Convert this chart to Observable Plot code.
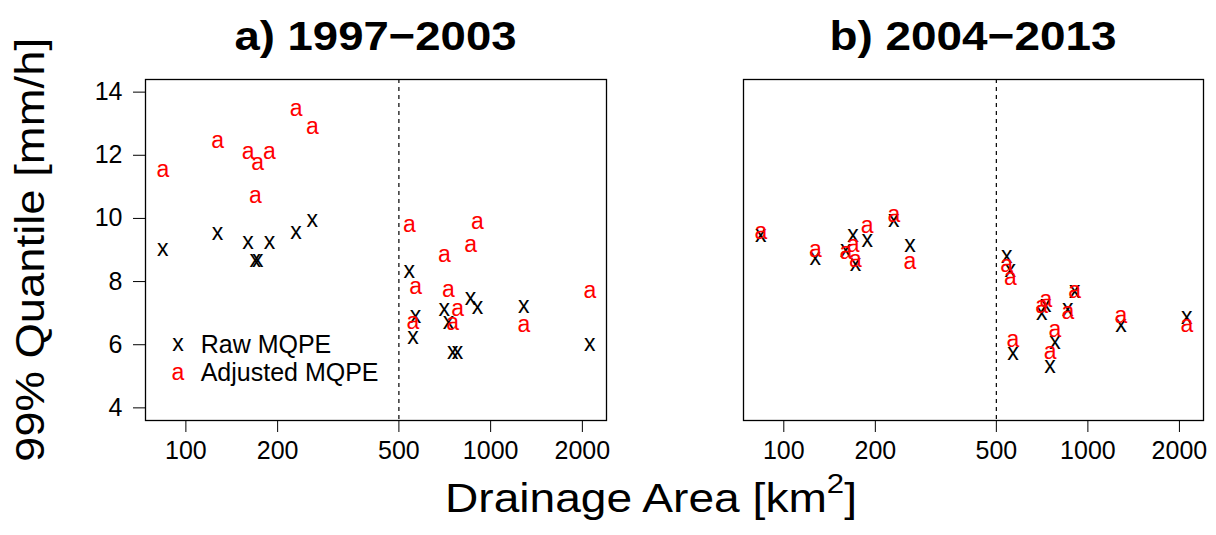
<!DOCTYPE html>
<html>
<head>
<meta charset="utf-8">
<script src="https://cdn.jsdelivr.net/npm/d3@7"></script>
<script src="https://cdn.jsdelivr.net/npm/@observablehq/plot@0.6"></script>
<style>
  body { margin: 0; background: #ffffff; }
  #wrap { position: relative; width: 1216px; height: 535px; background: #ffffff;
          font-family: "Liberation Sans", Arial, Helvetica, sans-serif; }
  #wrap > svg { position: absolute; top: 0; }
</style>
</head>
<body>
<div id="wrap"></div>
<script>
// ---------------- data ----------------
const areas = [84, 127, 160, 169, 172, 188, 230, 260, 541, 556, 567, 705, 727, 751, 779, 859, 905, 1285, 2115];

const rawA = [9.02, 9.51, 9.24, 8.67, 8.67, 9.24, 9.56, 9.94, 8.33, 6.24, 6.90, 7.11, 6.71, 5.74, 5.74, 7.46, 7.19, 7.22, 6.01];
const adjA = [11.52, 12.44, 12.08, 10.68, 11.73, 12.08, 13.44, 12.89, 9.77, 6.71, 7.81, 8.82, 7.72, 6.67, 7.11, 9.14, 9.87, 6.60, 7.67];

const rawB = [9.47, 8.73, 8.97, 9.44, 8.55, 9.31, 9.94, 9.15, 8.78, 8.36, 5.72, 6.97, 7.23, 5.30, 6.06, 7.11, 7.67, 6.59, 6.86];
const adjB = [9.54, 8.99, 8.92, 9.15, 8.67, 9.73, 10.10, 8.59, 8.52, 8.09, 6.12, 7.20, 7.39, 5.75, 6.46, 7.01, 7.67, 6.88, 6.62];

const panelTitles = ["a) 1997\u22122003", "b) 2004\u22122013"];
const xTicks = [100, 200, 500, 1000, 2000];
const yTicks = [4, 6, 8, 10, 12, 14];
const threshold = [500];
const xDomain = [73.7, 2400];
const yDomain = [3.6, 14.4];
const legendSymbols = ["x", "a"];
const legendLabels = ["Raw MQPE", "Adjusted MQPE"];
const yLabel = "99% Quantile [mm/h]";
const xLabelMain = "Drainage Area [km";
const xLabelSup = "2";
const xLabelEnd = "]";

// ---------------- layout ----------------
const FONT = "'Liberation Sans', Arial, Helvetica, sans-serif";
const RED = "#ff0000";
const PT = 23;
const H = 535, MT = 79, MB = 115;
const panels = [
  {left: 0,   width: 620, ml: 145, mr: 14, raw: rawA, adj: adjA, yaxis: true},
  {left: 620, width: 596, ml: 123, mr: 13, raw: rawB, adj: adjB, yaxis: false}
];

const wrap = document.getElementById("wrap");

panels.forEach(p => {
  const rows = areas.map((a, i) => ({area: a, raw: p.raw[i], adj: p.adj[i]}));
  const chart = Plot.plot({
    width: p.width, height: H,
    marginLeft: p.ml, marginRight: p.mr, marginTop: MT, marginBottom: MB,
    style: {fontFamily: FONT, fontSize: "25px", color: "black", background: "transparent", overflow: "visible"},
    x: {type: "log", domain: xDomain, ticks: xTicks, tickFormat: d => String(d),
        tickSize: 12, tickPadding: 9, label: null},
    y: p.yaxis
      ? {domain: yDomain, ticks: yTicks, tickSize: 12, tickPadding: 11, label: null}
      : {domain: yDomain, axis: null},
    marks: [
      Plot.ruleX(threshold, {stroke: "black", strokeWidth: 1.2, strokeDasharray: "4,4"}),
      Plot.text(rows, {x: "area", y: "raw", text: () => "x", fill: "black", fontSize: PT, dy: -1}),
      Plot.text(rows, {x: "area", y: "adj", text: () => "a", fill: RED, fontSize: PT, dy: -1}),
      Plot.frame({stroke: "black", strokeWidth: 1.3})
    ]
  });
  chart.style.left = p.left + "px";
  wrap.appendChild(chart);
});

// ---------------- overlay: titles, axis labels, legend ----------------
const ov = d3.select(wrap).append("svg")
  .attr("width", 1216).attr("height", H)
  .style("left", "0px").style("pointer-events", "none")
  .attr("font-family", FONT);

const centers = panels.map(p => p.left + (p.ml + (p.width - p.mr)) / 2);
const titleLens = [282, 287];
panelTitles.forEach((t, i) => {
  ov.append("text")
    .attr("x", centers[i]).attr("y", 49.5)
    .attr("text-anchor", "middle").attr("font-weight", "bold").attr("font-size", 41)
    .attr("textLength", titleLens[i]).attr("lengthAdjust", "spacingAndGlyphs")
    .text(t);
});

const xl = ov.append("text")
  .attr("x", 651).attr("y", 512.3)
  .attr("text-anchor", "middle").attr("font-size", 40)
  .attr("textLength", 412).attr("lengthAdjust", "spacingAndGlyphs");
xl.append("tspan").text(xLabelMain);
xl.append("tspan").attr("font-size", 27).attr("dy", -19).text(xLabelSup);
xl.append("tspan").attr("dy", 19).text(xLabelEnd);

ov.append("text")
  .attr("transform", "translate(44,250) rotate(-90)")
  .attr("text-anchor", "middle").attr("font-size", 40)
  .attr("textLength", 424).attr("lengthAdjust", "spacingAndGlyphs")
  .text(yLabel);

const legendRows = [{sy: 350.5, ty: 352.7}, {sy: 380, ty: 381}];
legendLabels.forEach((lab, i) => {
  ov.append("text")
    .attr("x", 178).attr("y", legendRows[i].sy)
    .attr("text-anchor", "middle").attr("font-size", PT)
    .attr("fill", i === 0 ? "black" : RED)
    .text(legendSymbols[i]);
  ov.append("text")
    .attr("x", 200.7).attr("y", legendRows[i].ty)
    .attr("font-size", 25).attr("fill", "black")
    .text(lab);
});
</script>
</body>
</html>
